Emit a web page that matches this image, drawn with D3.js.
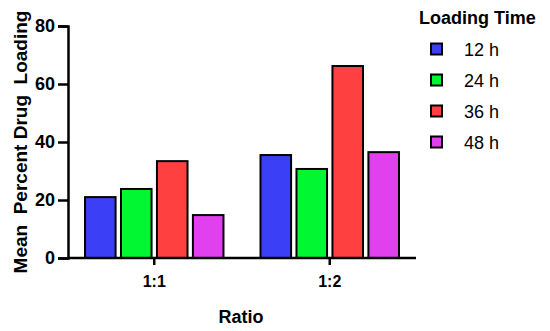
<!DOCTYPE html>
<html>
<head>
<meta charset="utf-8">
<script src="https://cdn.jsdelivr.net/npm/d3@7"></script>
<style>
body { margin: 0; background: #fff; }
text { font-family: "Liberation Sans", Arial, sans-serif; }
</style>
</head>
<body>
<svg id="chart" width="550" height="331"></svg>
<script>
var ratios = ["1:1", "1:2"];
var times = ["12 h", "24 h", "36 h", "48 h"];
var colors = ["#3b3ff5", "#00f731", "#ff4040", "#e040ee"];
var values12 = [21.0, 35.5];
var values24 = [23.8, 30.7];
var values36 = [33.4, 66.2];
var values48 = [14.8, 36.5];
var yTicks = [0, 20, 40, 60, 80];

var series = [values12, values24, values36, values48];

var svg = d3.select("#chart");
var x0 = 68, x1 = 416, yTop = 26, yBot = 258;

var x = d3.scaleBand().domain(ratios).range([x0, x1]).paddingInner(0.211).paddingOuter(0.097);
var xs = d3.scaleBand().domain(times).range([0, x.bandwidth()]).paddingInner(0.15);
var y = d3.scaleLinear().domain([0, 80]).range([yBot, yTop]);

/* bars */
var groups = svg.selectAll("g.grp")
	.data(ratios)
	.enter().append("g")
	.attr("class", "grp")
	.attr("transform", function(d) { return "translate(" + x(d) + ",0)"; });

groups.selectAll("rect")
	.data(function(d, i) {
		return series.map(function(s, j) { return { t: times[j], v: s[i], c: colors[j] }; });
	})
	.enter().append("rect")
	.attr("x", function(d) { return xs(d.t); })
	.attr("y", function(d) { return y(d.v); })
	.attr("width", xs.bandwidth())
	.attr("height", function(d) { return yBot - y(d.v); })
	.attr("fill", function(d) { return d.c; })
	.attr("stroke", "#000")
	.attr("stroke-width", 2);

/* axes */
var yAxis = svg.append("g")
	.attr("transform", "translate(" + x0 + ",0)")
	.call(d3.axisLeft(y).tickValues(yTicks).tickSize(10).tickPadding(3));
var xAxis = svg.append("g")
	.attr("transform", "translate(0," + yBot + ")")
	.call(d3.axisBottom(x).tickSize(7).tickPadding(11));

[yAxis, xAxis].forEach(function(a) {
	a.attr("font-size", null).attr("font-family", null);
	a.select(".domain").attr("stroke", "#000").attr("stroke-width", 2.5);
	a.selectAll(".tick line").attr("stroke", "#000").attr("stroke-width", 2.5);
	a.selectAll(".tick text")
		.attr("fill", "#000")
		.style("font-size", "18px")
		.style("font-weight", "bold");
});
xAxis.select(".domain").attr("d", "M" + x0 + ",0H" + x1);
xAxis.selectAll(".tick text").style("font-size", "16px");

/* titles */
svg.append("text")
	.attr("transform", "translate(27,142) rotate(-90)")
	.attr("text-anchor", "middle")
	.style("font-size", "19px")
	.style("font-weight", "bold")
	.style("white-space", "pre")
	.text("Mean  Percent Drug  Loading");

svg.append("text")
	.attr("x", 241)
	.attr("y", 323)
	.attr("text-anchor", "middle")
	.style("font-size", "18px")
	.style("font-weight", "bold")
	.text("Ratio");

/* legend */
svg.append("text")
	.attr("x", 419)
	.attr("y", 24)
	.style("font-size", "18px")
	.style("font-weight", "bold")
	.text("Loading Time");

var leg = svg.selectAll("g.leg")
	.data(times)
	.enter().append("g")
	.attr("class", "leg")
	.attr("transform", function(d, i) { return "translate(431," + (49 + i * 31) + ")"; });

leg.append("rect")
	.attr("x", 0).attr("y", -5.5)
	.attr("width", 11).attr("height", 11)
	.attr("fill", function(d, i) { return colors[i]; })
	.attr("stroke", "#000")
	.attr("stroke-width", 2);

leg.append("text")
	.attr("x", 68)
	.attr("y", 6.5)
	.attr("text-anchor", "end")
	.style("font-size", "18px")
	.text(function(d) { return d; });
</script>
</body>
</html>
